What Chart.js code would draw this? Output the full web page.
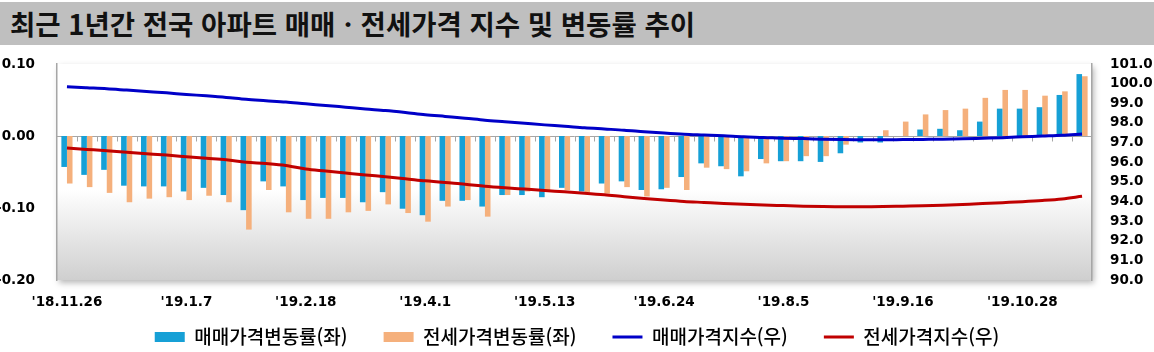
<!DOCTYPE html>
<html lang="ko">
<head>
<meta charset="utf-8">
<script src="https://cdn.jsdelivr.net/npm/chart.js@4.4.0/dist/chart.umd.min.js"></script>
<style>
  html, body { margin: 0; padding: 0; background: #fff; overflow: hidden; }
  #wrap { position: relative; width: 1154px; height: 352px; overflow: hidden; }
  #title {
    position: absolute; left: 0; top: 2px; width: 1154px; height: 43px;
    background: #bfbfbf; color: #111; box-sizing: border-box; padding-left: 10px;
    font-family: "Noto Sans CJK KR"; font-weight: bold; font-size: 27.5px; line-height: 43px;
    white-space: nowrap;
  }
  #chart { position: absolute; left: 0; top: 0; }
</style>
</head>
<body>
<div id="wrap">
  <canvas id="chart" width="1154" height="382"></canvas>
  <div id="title">최근 1년간 전국 아파트 매매ㆍ전세가격 지수 및 변동률 추이</div>
</div>
<script>
'use strict'
// weekly survey dates
let weeks = ["'18.11.26", "'18.12.3", "'18.12.10", "'18.12.17", "'18.12.24", "'18.12.31",
  "'19.1.7", "'19.1.14", "'19.1.21", "'19.1.28", "'19.2.4", "'19.2.11",
  "'19.2.18", "'19.2.25", "'19.3.4", "'19.3.11", "'19.3.18", "'19.3.25",
  "'19.4.1", "'19.4.8", "'19.4.15", "'19.4.22", "'19.4.29", "'19.5.6",
  "'19.5.13", "'19.5.20", "'19.5.27", "'19.6.3", "'19.6.10", "'19.6.17",
  "'19.6.24", "'19.7.1", "'19.7.8", "'19.7.15", "'19.7.22", "'19.7.29",
  "'19.8.5", "'19.8.12", "'19.8.19", "'19.8.26", "'19.9.2", "'19.9.9",
  "'19.9.16", "'19.9.23", "'19.9.30", "'19.10.7", "'19.10.14", "'19.10.21",
  "'19.10.28", "'19.11.4", "'19.11.11", "'19.11.18"];

// 변동률 (left axis, %)
let saleRate = [-0.043, -0.054, -0.047, -0.069, -0.070, -0.070, -0.077, -0.072, -0.082, -0.103,
  -0.063, -0.070, -0.089, -0.086, -0.086, -0.092, -0.078, -0.101, -0.110, -0.090,
  -0.090, -0.098, -0.082, -0.082, -0.085, -0.072, -0.077, -0.066, -0.063, -0.075,
  -0.074, -0.057, -0.038, -0.042, -0.056, -0.032, -0.035, -0.035, -0.036, -0.024,
  -0.009, -0.009, 0.000, 0.009, 0.010, 0.008, 0.020, 0.038, 0.038, 0.040,
  0.057, 0.086];
let jeonseRate = [-0.066, -0.071, -0.079, -0.092, -0.087, -0.085, -0.089, -0.083, -0.092, -0.130,
  -0.075, -0.106, -0.115, -0.115, -0.106, -0.104, -0.095, -0.107, -0.119, -0.098,
  -0.089, -0.112, -0.082, -0.077, -0.077, -0.075, -0.078, -0.080, -0.071, -0.084,
  -0.072, -0.075, -0.044, -0.046, -0.049, -0.038, -0.035, -0.028, -0.028, -0.012,
  0.000, 0.008, 0.020, 0.030, 0.036, 0.038, 0.053, 0.064, 0.064, 0.056,
  0.062, 0.083];

// 지수 (right axis)
let saleIndex = [99.84, 99.79, 99.74, 99.67, 99.60, 99.53, 99.45, 99.38, 99.30, 99.20,
  99.13, 99.06, 98.97, 98.89, 98.80, 98.71, 98.63, 98.53, 98.42, 98.33,
  98.24, 98.14, 98.06, 97.98, 97.90, 97.83, 97.75, 97.69, 97.63, 97.55,
  97.48, 97.42, 97.38, 97.34, 97.29, 97.26, 97.22, 97.20, 97.17, 97.15,
  97.14, 97.14, 97.15, 97.16, 97.17, 97.19, 97.22, 97.25, 97.29, 97.33,
  97.37, 97.43];
let jeonseIndex = [96.72, 96.65, 96.58, 96.50, 96.43, 96.36, 96.28, 96.20, 96.12, 96.00,
  95.93, 95.83, 95.65, 95.55, 95.45, 95.35, 95.26, 95.16, 95.05, 94.96,
  94.88, 94.78, 94.70, 94.63, 94.56, 94.49, 94.42, 94.34, 94.24, 94.15,
  94.07, 94.00, 93.95, 93.90, 93.86, 93.82, 93.79, 93.76, 93.74, 93.73,
  93.73, 93.74, 93.76, 93.78, 93.81, 93.85, 93.89, 93.94, 93.99, 94.05,
  94.13, 94.26];

let seriesNames = ['매매가격변동률(좌)', '전세가격변동률(좌)', '매매가격지수(우)', '전세가격지수(우)'];
let rateMin = -0.2, rateMax = 0.1, rateStep = 0.1;
let indexMin = 90, indexMax = 101, indexStep = 1;
let labelEvery = 6;

let colors = ['#16a0d6', '#f5b07c', '#0000c8', '#c00000'];
let tickFont = { family: 'DejaVu Sans', size: 13.5, weight: 'bold' };
let legendFont = { family: 'Noto Sans CJK KR', size: 19, weight: '500' };
let legendGap = 36;
let legendMidY = 337;

let plotBack = {
  id: 'plotBack',
  afterLayout(chart) {
    // pull the legend row up under the date labels
    let lg = chart.legend;
    let dy = legendMidY - (lg.top + legendGap + legendFont.size / 2);
    lg.top += dy;
    lg.bottom += dy;
  },
  beforeDraw(chart) {
    let a = chart.chartArea;
    let ctx = chart.ctx;
    ctx.save();
    let g = ctx.createLinearGradient(0, a.top, 0, a.bottom);
    g.addColorStop(0, '#ffffff');
    g.addColorStop(0.58, '#ffffff');
    g.addColorStop(1, '#cfcfcf');
    ctx.shadowColor = 'rgba(0,0,0,0.28)';
    ctx.shadowBlur = 6;
    ctx.shadowOffsetX = 2;
    ctx.shadowOffsetY = 3;
    ctx.fillStyle = g;
    ctx.fillRect(a.left, a.top, a.right - a.left, a.bottom - a.top);
    ctx.restore();
  },
  beforeDatasetsDraw(chart) {
    let a = chart.chartArea;
    let ctx = chart.ctx;
    let xs = chart.scales.x;
    let zy = Math.round(chart.scales.y.getPixelForValue(0)) + 0.5;
    ctx.save();
    ctx.strokeStyle = '#a6a6a6';
    ctx.lineWidth = 1;
    ctx.beginPath();
    ctx.moveTo(a.left, zy);
    ctx.lineTo(a.right, zy);
    for (let i = 1; i < weeks.length; i++) {
      let bx = Math.round((xs.getPixelForValue(i - 1) + xs.getPixelForValue(i)) / 2) + 0.5;
      ctx.moveTo(bx, zy);
      ctx.lineTo(bx, zy + 5);
    }
    ctx.stroke();
    ctx.restore();
  }
};

let ctx = document.getElementById('chart').getContext('2d');
let myChart = new Chart(ctx, {
  type: 'bar',
  data: {
    labels: weeks,
    datasets: [
      { label: seriesNames[0], data: saleRate, backgroundColor: colors[0], yAxisID: 'y', order: 1,
        categoryPercentage: 0.56, barPercentage: 1.0 },
      { label: seriesNames[1], data: jeonseRate, backgroundColor: colors[1], yAxisID: 'y', order: 1,
        categoryPercentage: 0.56, barPercentage: 1.0 },
      { type: 'line', label: seriesNames[2], data: saleIndex, borderColor: colors[2], borderWidth: 3,
        pointRadius: 0, cubicInterpolationMode: 'monotone', yAxisID: 'y1', order: 0 },
      { type: 'line', label: seriesNames[3], data: jeonseIndex, borderColor: colors[3], borderWidth: 3,
        pointRadius: 0, cubicInterpolationMode: 'monotone', yAxisID: 'y1', order: 0 }
    ]
  },
  options: {
    responsive: false,
    animation: false,
    layout: { padding: { top: 64, left: 0, right: 0, bottom: 0 } },
    plugins: {
      tooltip: { enabled: false },
      legend: {
        position: 'bottom',
        labels: {
          usePointStyle: true,
          pointStyleWidth: 30,
          boxHeight: 10,
          padding: legendGap,
          color: '#1a1a1a',
          font: legendFont,
          generateLabels: function () {
            return seriesNames.map(function (name, i) {
              let isLine = i > 1;
              return {
                text: name,
                fillStyle: colors[i],
                strokeStyle: colors[i],
                lineWidth: isLine ? 3 : 0,
                pointStyle: isLine ? 'line' : 'rect',
                hidden: false,
                datasetIndex: i
              };
            });
          }
        }
      }
    },
    scales: {
      x: {
        grid: { display: false, drawTicks: false },
        border: { display: false },
        ticks: {
          autoSkip: false, maxRotation: 0, padding: 14, color: '#000', font: tickFont,
          callback: function (v, i) { return i % labelEvery === 0 ? this.getLabelForValue(v) : ''; }
        },
        afterFit: function (s) { s.height = 37; }
      },
      y: {
        position: 'left',
        min: rateMin, max: rateMax,
        grid: { display: false, drawTicks: false },
        border: { display: true, color: '#a6a6a6', width: 1.5 },
        ticks: { stepSize: rateStep, padding: 22, color: '#000', font: tickFont,
          callback: function (v) { return v.toFixed(2); } },
        afterFit: function (s) { s.width = 57; }
      },
      y1: {
        position: 'right',
        min: indexMin, max: indexMax,
        grid: { display: false, drawTicks: false },
        border: { display: true, color: '#a6a6a6', width: 1.5 },
        ticks: { stepSize: indexStep, padding: 18, color: '#000', font: tickFont,
          callback: function (v) { return v.toFixed(1); } },
        afterFit: function (s) { s.width = 62; }
      }
    }
  },
  plugins: [plotBack]
});
</script>
</body>
</html>
